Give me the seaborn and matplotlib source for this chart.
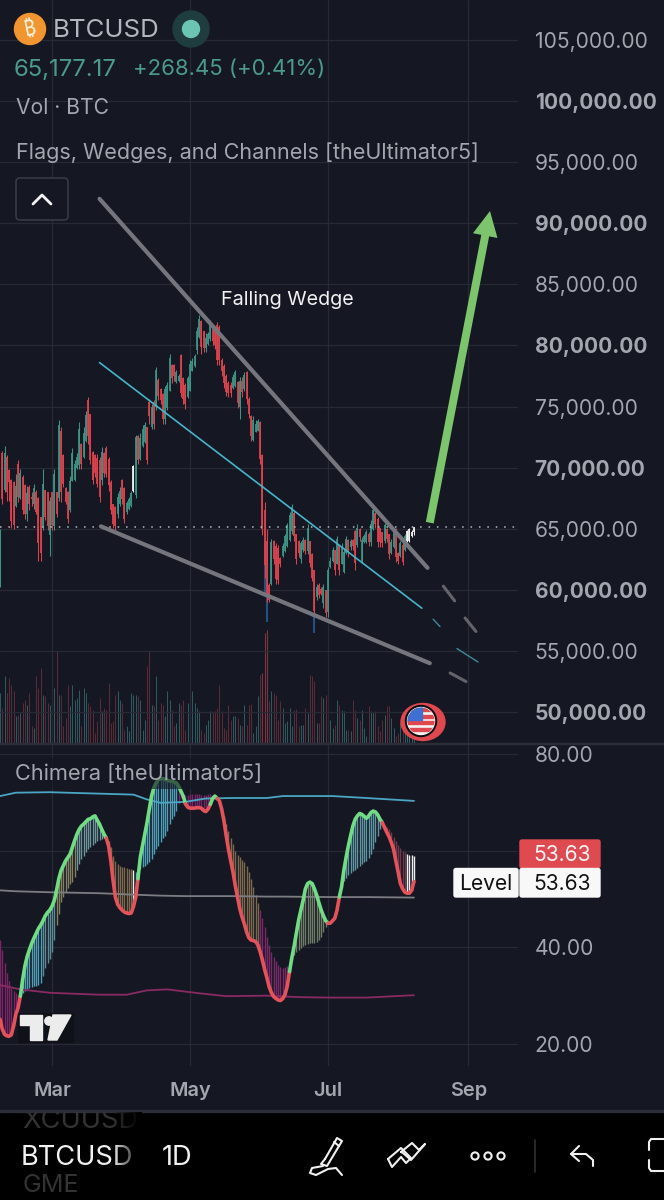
import numpy as np
import pandas as pd
import seaborn as sns
import matplotlib.pyplot as plt
from matplotlib.patches import Circle, Ellipse, FancyBboxPatch, Polygon, Rectangle

# daily candles, prices in thousands of USD
opens = [61.0,71.2,68.2,70.9,69.8,69.0,68.8,66.9,70.3,67.5,69.2,68.6,66.2,68.4,67.6,67.0,68.0,67.5,66.0,65.2,
         68.2,68.0,64.5,68.0,65.2,68.0,67.5,73.0,71.0,68.3,68.0,66.5,68.9,69.0,70.0,70.2,71.9,70.9,72.2,75.5,
         74.4,71.3,71.0,70.8,70.6,69.0,71.2,71.6,70.7,68.8,67.0,66.8,66.2,67.0,69.0,68.3,66.4,66.6,66.9,68.1,
         67.8,72.6,70.7,71.8,72.1,73.3,75.4,73.3,75.4,75.0,77.2,76.4,76.0,74.0,74.9,76.3,78.4,78.4,77.0,77.1,
         79.2,77.3,76.8,75.8,76.3,77.9,78.3,79.6,80.7,82.0,81.2,79.8,80.1,80.5,81.6,81.5,81.7,81.5,78.8,78.3,
         77.5,76.9,76.8,76.5,76.7,77.0,75.0,77.1,76.4,77.8,75.6,74.2,72.3,72.9,73.0,73.7,71.0,66.5,64.0,60.4,
         60.5,64.0,63.6,63.4,62.6,62.8,63.2,63.6,64.1,64.8,66.3,64.6,64.0,62.5,63.3,64.1,63.2,64.0,62.9,61.6,
         59.4,60.4,60.1,58.9,60.0,58.2,61.9,62.4,63.3,62.1,63.7,62.1,61.5,63.0,64.1,63.5,64.1,64.8,63.7,65.0,
         62.4,63.9,63.9,64.6,63.9,65.0,66.3,65.8,65.1,64.7,64.0,65.0,64.6,63.0,63.5,65.0,63.0,62.8,63.7,63.3,
         64.0,64.0,64.4,64.7]
highs = [65.0,71.4,71.8,71.0,69.9,69.1,68.9,69.5,70.6,69.9,69.4,68.7,68.5,68.6,68.0,68.7,68.2,67.6,66.0,69.9,
         68.2,68.0,67.6,68.0,69.9,68.0,73.9,73.3,71.1,68.4,68.1,69.3,71.6,70.6,71.2,73.7,72.0,73.3,74.6,75.8,
         74.4,71.4,71.1,71.1,70.9,71.7,71.3,71.8,70.9,69.0,67.0,66.9,67.9,68.4,69.1,68.4,67.3,67.6,68.1,70.2,
         72.7,72.7,72.8,73.5,73.7,73.3,75.6,75.2,75.5,78.2,77.3,76.5,76.1,76.7,77.0,79.3,78.5,78.5,78.0,77.7,
         79.3,77.4,76.9,77.5,78.8,79.0,79.3,81.5,82.5,82.1,81.2,81.0,81.1,82.1,81.7,81.6,81.9,81.7,79.0,78.5,
         77.7,77.1,77.0,77.7,78.0,77.1,77.4,77.4,77.8,77.9,75.8,74.3,74.2,73.9,74.0,73.8,71.1,67.2,65.0,60.6,
         64.2,64.1,63.8,63.7,62.7,63.8,64.6,65.5,66.4,67.0,66.5,64.6,64.1,64.0,64.3,64.2,65.4,64.0,63.0,61.6,
         60.5,60.6,60.2,60.5,60.0,61.9,62.7,63.5,63.3,64.4,63.7,63.8,63.4,64.4,64.2,64.2,64.2,64.9,65.4,65.1,
         64.3,64.6,64.9,64.7,65.7,66.8,66.4,66.0,65.1,64.7,65.5,65.1,64.6,64.2,65.1,65.1,63.1,64.0,63.8,64.6,
         64.9,65.1,64.9,65.1]
lows = [60.2,67.0,68.0,67.3,67.3,65.1,65.0,66.8,67.2,67.4,66.2,65.8,65.6,66.5,66.9,66.6,66.2,62.4,62.4,64.9,
        65.7,64.9,62.8,64.9,64.9,66.0,67.3,67.2,68.4,67.0,65.5,66.4,68.9,68.9,69.9,69.9,69.9,70.8,72.1,71.9,
        70.3,68.7,69.2,68.4,67.2,68.6,69.2,69.2,68.1,66.2,65.1,64.9,65.9,66.9,67.0,65.5,66.2,66.5,66.8,68.0,
        67.5,70.3,70.6,71.7,72.0,70.3,73.6,73.2,73.2,74.7,75.5,75.2,73.6,73.6,74.7,76.3,76.9,77.1,76.9,77.0,
        75.8,75.2,74.8,75.7,76.3,77.9,78.2,79.3,80.6,79.3,79.5,79.5,80.0,80.4,80.0,79.7,78.4,78.4,77.5,76.5,
        75.9,75.8,75.8,76.4,76.6,74.9,74.0,75.8,76.3,75.2,74.1,72.2,72.2,72.9,73.0,70.3,64.5,61.0,59.0,59.0,
        60.4,62.1,60.5,60.5,61.9,62.7,63.1,63.5,64.0,64.6,64.0,62.1,62.7,62.2,63.1,62.9,62.9,61.9,60.7,57.9,
        59.2,59.3,59.6,58.5,57.8,57.8,61.8,62.3,61.2,62.1,61.2,62.1,61.4,62.9,62.7,63.3,63.3,61.6,63.5,64.0,
        62.3,63.8,63.8,63.6,63.6,64.9,65.1,63.5,63.5,63.5,63.8,63.9,62.5,62.9,63.4,62.3,62.1,62.7,62.0,63.2,
        63.9,63.9,64.3,64.5]
closes = [64.6,67.4,71.2,68.0,68.8,65.6,65.3,68.5,67.6,69.6,66.5,66.2,67.9,67.0,67.4,68.3,66.4,63.8,63.0,68.7,
          66.0,65.2,67.3,65.3,69.5,66.2,73.5,68.0,68.7,67.2,65.8,68.9,71.2,70.3,70.9,73.2,70.3,72.8,74.3,72.6,
          70.6,69.0,69.6,68.7,67.6,71.3,69.6,69.5,68.6,66.5,65.4,65.2,67.6,68.1,67.4,65.8,67.1,67.4,67.9,70.1,
          72.5,70.6,72.4,73.2,73.5,70.6,74.2,75.0,73.6,78.0,75.9,75.5,74.0,76.4,76.8,79.0,77.3,77.5,77.8,77.5,
          76.1,75.6,75.2,77.3,78.5,78.7,79.1,81.2,82.2,79.9,79.8,80.6,80.9,81.8,80.4,80.0,78.8,78.8,77.9,76.9,
          76.2,76.1,76.1,77.4,77.8,75.3,77.1,76.2,77.6,75.6,74.4,72.6,73.9,73.6,73.8,70.7,65.0,62.0,59.6,59.2,
          63.9,62.5,60.9,60.8,62.1,63.6,64.4,65.3,66.1,66.8,64.4,62.5,63.0,63.8,64.1,63.2,65.1,62.2,61.0,58.3,
          60.2,59.6,59.7,60.2,58.1,61.6,62.4,63.3,61.6,64.2,61.6,63.5,63.1,64.2,63.1,64.0,63.6,62.2,65.1,64.3,
          64.1,64.4,64.7,63.9,65.4,66.5,65.4,63.9,63.9,63.8,65.3,64.2,62.9,63.9,64.9,62.7,62.4,63.8,62.3,64.4,
          64.8,65.0,64.7,65.17]
white_bars = [59, 180, 181, 182, 183]
last_price = 65.177

# volume, same units as the pane height
volume = [50,35,67,50,65,58,52,27,28,30,40,43,38,50,17,15,67,55,75,48,
          47,40,38,77,55,92,48,48,17,25,58,37,58,43,45,53,17,55,50,40,
          37,33,10,22,45,32,35,33,60,20,22,48,52,43,40,13,17,12,50,48,
          48,47,43,13,23,77,92,38,37,67,23,40,38,27,52,43,33,17,20,40,
          38,43,13,40,15,52,40,35,32,13,10,18,23,32,32,32,35,58,32,15,
          13,38,23,27,27,25,18,17,38,18,38,39,10,17,47,68,70,110,113,42,
          52,50,48,23,42,35,20,22,35,17,33,34,17,18,18,35,30,68,67,62,
          20,20,47,45,48,43,23,15,18,43,38,33,32,13,13,12,43,33,25,23,
          33,15,7,37,32,30,32,17,12,23,28,37,37,25,15,7,10,20,15,15,
          10,10,8,6]

# Chimera oscillator, fast wave and slow wave per bar
osc_fast = [25.1,23.1,22.0,21.7,21.6,21.9,23.7,26.1,27.5,29.9,33.3,36.1,38.1,39.5,40.8,41.9,42.9,43.9,44.6,45.5,
            46.5,47.2,47.7,48.5,49.7,51.8,54.2,55.9,56.9,57.9,58.6,59.3,60.7,62.1,63.4,64.4,65.1,65.5,66.0,66.5,
            66.6,67.0,67.2,66.3,65.5,64.4,63.4,62.6,61.0,57.9,53.8,50.4,48.9,48.2,47.7,47.3,47.1,47.0,47.1,48.4,
            50.4,54.2,58.6,61.0,63.4,65.8,68.6,71.3,73.0,74.0,74.7,74.9,74.9,74.8,74.6,74.4,74.4,74.2,74.0,73.3,
            72.3,71.3,69.7,69.0,68.8,68.8,68.8,68.9,68.9,68.8,68.3,68.1,68.6,69.6,70.8,71.3,70.8,70.3,68.6,66.2,
            63.1,60.3,57.9,55.6,52.8,50.4,48.0,46.3,44.9,43.2,42.0,41.5,41.4,41.2,40.5,39.1,37.4,35.4,33.7,31.8,
            30.6,29.8,29.4,29.1,29.0,29.4,30.2,32.0,35.0,37.8,40.2,42.9,45.6,47.7,49.7,52.1,53.2,53.5,53.2,52.1,
            50.8,49.2,47.7,46.5,45.5,45.0,45.0,45.5,46.0,47.7,50.4,52.5,55.9,58.6,61.0,63.1,65.1,66.5,67.2,67.7,
            67.5,67.1,66.7,67.2,67.9,68.2,68.0,67.4,66.5,65.8,64.8,63.8,62.9,61.7,60.3,57.9,55.6,53.2,52.1,51.4,
            51.2,51.2,51.8,53.6]
osc_slow = [41.5,39.5,36.7,34.7,33.0,31.6,30.9,30.6,30.2,30.0,30.5,30.9,31.3,31.6,31.8,32.0,32.1,32.3,32.6,34.0,
            35.7,36.7,37.6,39.1,41.5,44.6,47.0,49.4,50.4,51.5,52.3,53.2,53.5,54.5,55.9,57.3,58.3,59.0,59.7,60.3,
            60.8,61.2,61.6,61.9,62.2,62.4,62.7,62.6,61.9,60.7,59.0,57.9,57.3,56.9,56.7,56.6,56.4,56.3,56.2,56.1,
            55.6,54.2,56.2,56.6,56.9,57.3,57.6,58.3,59.3,60.3,61.0,61.7,62.6,63.1,64.1,65.5,66.5,67.2,68.2,69.6,
            70.9,71.6,71.6,71.6,71.7,71.7,71.8,71.7,71.7,71.6,71.6,71.6,71.7,71.7,71.6,71.3,70.8,69.9,68.9,67.2,
            65.5,64.1,62.7,61.4,60.0,59.2,58.6,58.1,57.6,56.9,55.6,54.2,52.5,50.8,49.1,47.7,46.0,44.3,42.2,40.5,
            39.1,37.9,37.1,36.4,35.9,35.8,35.9,36.1,36.7,37.8,38.5,39.0,39.5,39.8,40.2,40.5,40.7,40.8,41.0,41.0,
            41.2,41.5,42.2,43.2,44.3,45.0,45.1,45.5,46.0,47.7,50.4,52.5,53.8,54.4,54.9,55.3,55.8,56.0,56.4,56.9,
            57.3,57.6,57.9,58.5,59.3,60.3,61.7,63.1,64.4,65.3,65.3,64.9,64.4,63.8,62.9,62.1,61.2,60.5,60.0,59.7,
            59.3,59.2,59.2,59.0]

# slow bands, read every so many bars
band_bars = [0, 7, 22, 44, 59, 65, 71, 82, 91, 103, 118, 125, 147, 162, 183]
band_upper = [71.3,72.0,72.1,71.8,71.6,70.6,69.9,70.1,70.8,70.9,70.9,71.3,71.3,70.9,70.3]
band_mid = [51.8,51.6,51.4,51.2,50.9,50.8,50.7,50.6,50.6,50.6,50.5,50.5,50.4,50.4,50.3]
lower_bars = [0, 9, 22, 44, 56, 65, 74, 88, 100, 118, 132, 147, 162, 183]
band_lower = [32.2,31.3,30.6,30.2,30.2,31.1,31.3,30.5,29.9,30.0,29.7,29.6,29.6,30.1]

# hand drawn wedge, (bar, price)
wedge_upper_bars, wedge_upper_px = [44, 189], [92.0, 61.8]
wedge_upper_dash = [[196, 201], [60.3, 59.1], [205.6, 210.4], [57.7, 56.6]]
wedge_mid_bars, wedge_mid_px = [44, 186.5], [78.6, 58.5]
wedge_mid_dash = [[191.5, 194.5], [57.6, 57.0], [202, 211.3], [55.2, 54.1]]
wedge_lower_bars, wedge_lower_px = [44.6, 190], [65.2, 54.0]
wedge_lower_dash = [[199, 206], [53.2, 52.5]]
arrow_bars, arrow_px = [190, 216.6], [65.5, 91.0]

price_ticks = [105, 100, 95, 90, 85, 80, 75, 70, 65, 60, 55, 50]
price_labels = ['105,000.00', '100,000.00', '95,000.00', '90,000.00', '85,000.00', '80,000.00',
                '75,000.00', '70,000.00', '65,000.00', '60,000.00', '55,000.00', '50,000.00']
strong_labels = ['100,000.00', '90,000.00', '80,000.00', '70,000.00', '60,000.00', '50,000.00']
osc_ticks = [80, 60, 40, 20]
osc_labels = ['80.00', '', '40.00', '20.00']
month_ticks = ['2024-03-01', '2024-05-01', '2024-07-01', '2024-09-01']
month_labels = ['Mar', 'May', 'Jul', 'Sep']

BG = '#151823'
GRID = '#272a35'
UP = '#3d9384'
DOWN = '#d8434e'
GREEN = '#72dc85'
RED = '#e5535a'
LABEL = '#a3a6ae'

# colour of the oscillator histogram, first bar of each stretch
hist_starts = [0, 9, 19, 25, 34, 47, 59, 60, 79, 97, 115, 128, 150, 170, 180]
hist_colors = ['#7d2468', '#4f9fb8', '#5b8c95', '#85805f', '#6c959c', '#7d6a4c', '#eeeeee', '#4e9fb9',
               '#7a2468', '#7d6a4c', '#7a2a6a', '#6f7c68', '#5f96a3', '#6e3b4e', '#eeeeee']
# where the fast wave changes colour
wave_breaks = [0, 9, 47, 61, 82, 93, 96, 128, 145, 150, 169, 183]
wave_colors = [RED, GREEN, RED, GREEN, RED, GREEN, RED, GREEN, RED, GREEN, RED]

sns.set_theme(style='darkgrid', rc={
    'axes.facecolor': BG, 'figure.facecolor': BG, 'grid.color': GRID, 'grid.linewidth': 0.9,
    'axes.edgecolor': BG, 'axes.linewidth': 0,
})
plt.rcParams['font.family'] = ['Inter', 'DejaVu Sans']

start = pd.Timestamp('2024-02-07')
dates = start + pd.to_timedelta(np.arange(len(closes)), 'D')


def bar_date(bars):
    return start + pd.to_timedelta(np.array(bars, dtype=float), 'D')


opens_a, closes_a = np.array(opens), np.array(closes)
candle_colors = np.where(closes_a >= opens_a, UP, DOWN).astype(object)
for i in white_bars:
    candle_colors[i] = '#f0f0f0'

W, H = 664, 1200
fig = plt.figure(figsize=(W / 100, H / 100), dpi=100)
ax = fig.add_axes([0, 1 - 743 / H, 518 / W, 743 / H])
ax_osc = fig.add_axes([0, 1 - 1066 / H, 518 / W, (1066 - 743) / H], sharex=ax)

# price pane
ax_vol = ax.twinx()
ax_vol.grid(False)
ax_vol.set_ylim(0, 743)
ax_vol.set_yticks([])
vol_colors = np.where(closes_a >= opens_a, '#2f5c60', '#5c2c38')
ax_vol.vlines(dates, 0, volume, colors=vol_colors, linewidth=0.7)
ax_vol.vlines(dates[116:119], 0, np.array(volume)[116:119], colors='#7a3340', linewidth=0.8)
ax.set_zorder(ax_vol.get_zorder() + 1)
ax.patch.set_visible(False)
ax_vol.patch.set_visible(True)

ax.vlines(bar_date([117, 118, 139]), [59.7, 57.4, 56.5], [63.8, 59.7, 58.0], colors='#2a5f9c', linewidth=1.5, alpha=0.8)
ax.vlines(dates, lows, highs, colors=candle_colors, linewidth=0.75)
ax.vlines(dates, opens, closes, colors=candle_colors, linewidth=1.3)
ax.axhline(last_price, color='#b4bcbc', linewidth=1.1, linestyle=(0, (1, 4.5)))

for bars, px, col, lw in [(wedge_upper_bars, wedge_upper_px, '#75757d', 3.0),
                          (wedge_mid_bars, wedge_mid_px, '#46b4c9', 1.2),
                          (wedge_lower_bars, wedge_lower_px, '#75757d', 3.0)]:
    sns.lineplot(x=bar_date(bars), y=px, color=col, linewidth=lw, ax=ax, legend=False, zorder=4)
for dash, col, lw in [(wedge_upper_dash, '#63636b', 2.2), (wedge_mid_dash, '#3f8a9c', 1.0), (wedge_lower_dash, '#63636b', 2.2)]:
    for k in range(0, len(dash), 2):
        sns.lineplot(x=bar_date(dash[k]), y=dash[k + 1], color=col, linewidth=lw, ax=ax, legend=False, zorder=4)

ax.annotate('', xy=(bar_date(arrow_bars)[1], arrow_px[1]), xytext=(bar_date(arrow_bars)[0], arrow_px[0]),
            arrowprops=dict(arrowstyle='simple,head_length=1.0,head_width=1.0,tail_width=0.32', color='#7cc56d',
                            linewidth=0, mutation_scale=18, shrinkA=0, shrinkB=0), zorder=5)
ax.text(bar_date([127])[0], 83.7, 'Falling Wedge', color='#f2f2f2', fontsize=14.2, ha='center', va='center')

ax.set_ylim(47.47, 108.27)
ax.set_yticks(price_ticks)
ax.set_yticklabels(price_labels)
ax.yaxis.tick_right()
ax.tick_params(axis='y', length=0, pad=12, labelsize=15.1, labelcolor=LABEL)
for lab in ax.get_yticklabels():
    if lab.get_text() in strong_labels:
        lab.set_fontweight('bold')
ax.set_xlim(start, start + pd.Timedelta(days=229))
ax.set_xticks(pd.to_datetime(month_ticks))
ax.tick_params(axis='x', length=0, labelbottom=False)
ax.set_xlabel('')
ax.set_ylabel('')

# oscillator pane
fast, slow = np.array(osc_fast), np.array(osc_slow)
for k, s in enumerate(hist_starts):
    e = hist_starts[k + 1] if k + 1 < len(hist_starts) else len(fast)
    ax_osc.vlines(dates[s:e], fast[s:e], slow[s:e], colors=hist_colors[k], linewidth=1.0)

sns.lineplot(x=bar_date(band_bars), y=band_upper, color='#4aa6c4', linewidth=1.3, ax=ax_osc, legend=False)
sns.lineplot(x=bar_date(band_bars), y=band_mid, color='#7c7d82', linewidth=1.3, ax=ax_osc, legend=False)
sns.lineplot(x=bar_date(lower_bars), y=band_lower, color='#8a2a63', linewidth=1.3, ax=ax_osc, legend=False)
for k, col in enumerate(wave_colors):
    a, b = wave_breaks[k], wave_breaks[k + 1] + 1
    sns.lineplot(x=dates[a:b], y=fast[a:b], color=col, linewidth=2.6, ax=ax_osc, legend=False, zorder=4)
ax_osc.text(bar_date([6.5])[0], 75.9, 'Chimera [theUltimator5]', color='#a3a6ae', fontsize=15.7, va='center', zorder=6,
            bbox=dict(facecolor=BG, edgecolor='none', alpha=0.62, pad=4))

ax_osc.set_ylim(15.45, 82.28)
ax_osc.set_yticks(osc_ticks)
ax_osc.set_yticklabels(osc_labels)
ax_osc.yaxis.tick_right()
ax_osc.tick_params(axis='y', length=0, pad=12, labelsize=15.1, labelcolor=LABEL)
ax_osc.set_xticks(pd.to_datetime(month_ticks))
ax_osc.set_xticklabels(month_labels, fontweight='semibold')
ax_osc.tick_params(axis='x', length=0, pad=11.5, labelsize=14.4, labelcolor=LABEL)
ax_osc.set_xlabel('')
ax_osc.set_ylabel('')

# app chrome on top, pixel coordinates
ui = fig.add_axes([0, 0, 1, 1], zorder=10)
ui.patch.set_visible(False)
ui.axis('off')
ui.set_xlim(0, W)
ui.set_ylim(H, 0)

ui.add_patch(Rectangle((0, 743), W, 1, color='#2b2e38'))
ui.add_patch(Rectangle((0, 1111), W, 89, color='#000000', zorder=1))
ui.add_patch(Rectangle((0, 1110), W, 1.6, color='#2b2e38', zorder=2))

# header
ui.add_patch(Circle((30, 29), 15.5, color='#f0952f'))
ui.text(30, 29.5, '₿', color='#fff3e0', fontsize=15, fontweight='bold', ha='center', va='center', rotation=12,
        family=['Noto Sans', 'Roboto', 'Open Sans', 'Lato', 'Liberation Sans', 'DejaVu Sans', 'Noto Sans CJK SC'])
ui.text(53, 30.5, 'BTCUSD', color='#b4b6bd', fontsize=18.6, va='center')
ui.add_patch(Circle((191, 29), 18, color='#1f3c3f'))
ui.add_patch(Circle((191, 29), 8.5, color='#6cc5b2'))
ui.text(14, 69.5, '65,177.17', color='#4b9a8a', fontsize=17.2, va='center')
ui.text(133, 69.5, '+268.45 (+0.41%)', color='#4b9a8a', fontsize=15.9, va='center')
ui.text(16, 108, 'Vol · BTC', color='#a3a6ae', fontsize=15.2, va='center')
ui.text(16, 152.5, 'Flags, Wedges, and Channels [theUltimator5]', color='#a3a6ae', fontsize=15.5, va='center')
ui.add_patch(FancyBboxPatch((16, 178), 52, 42, boxstyle='round,pad=0,rounding_size=4', facecolor=BG, edgecolor='#3a3d47', linewidth=1.1))
ui.plot([33, 42, 51], [204, 195, 204], color='#f2f2f2', linewidth=2.0)

# flag badge
ui.add_patch(Ellipse((423, 722), 44, 37, color='#e0484f', zorder=3))
ui.add_patch(Circle((421, 721), 15.5, color='#0d0d12', zorder=3))
flag = Circle((421, 721), 13.5, color='#f4f4f4', zorder=3)
ui.add_patch(flag)
for yy in [708, 714.5, 721, 727.5]:
    r = Rectangle((405, yy), 32, 3.4, color='#e0484f', zorder=4)
    r.set_clip_path(flag)
    ui.add_patch(r)
canton = Rectangle((405, 705), 17, 15, color='#3f6fd0', zorder=5)
canton.set_clip_path(flag)
ui.add_patch(canton)

# price tags
ui.add_patch(FancyBboxPatch((520, 840), 80, 28, boxstyle='round,pad=0,rounding_size=2', color='#df4a51'))
ui.text(562, 855, '53.63', color='#f7f7f7', fontsize=15.1, ha='center', va='center')
ui.add_patch(FancyBboxPatch((454, 868.5), 64, 28.5, boxstyle='round,pad=0,rounding_size=2', color='#f8f8f8'))
ui.add_patch(FancyBboxPatch((520, 868.5), 80, 28.5, boxstyle='round,pad=0,rounding_size=2', color='#f8f8f8'))
ui.text(486, 884, 'Level', color='#111111', fontsize=15.1, ha='center', va='center')
ui.text(562, 884, '53.63', color='#111111', fontsize=15.1, ha='center', va='center')

# TradingView logo
ui.add_patch(Rectangle((18, 1013), 55, 29, color='#0d0e13', alpha=0.55))
ui.add_patch(Polygon([(20, 1015), (42, 1015), (42, 1040), (30, 1040), (30, 1025), (20, 1025)], color='#ececec'))
ui.add_patch(Circle((49, 1021), 4.2, color='#ececec'))
ui.add_patch(Polygon([(53, 1015), (71, 1015), (57, 1040), (48, 1040)], color='#ececec'))

# bottom bar
strip = Rectangle((0, 1111.6), W, 88.4, transform=ui.transData)
ui.text(21, 1158, 'BTCUSD', color='#f2f2f2', fontsize=19.6, va='center', zorder=3)
ui.text(162, 1158, '1D', color='#f2f2f2', fontsize=19.6, va='center', zorder=3)
t = ui.text(22, 1121, 'XCUUSD', color='#333333', fontsize=19.6, va='center', zorder=3, clip_on=True)
t.set_clip_path(strip)
ui.text(22, 1186, 'GME', color='#333333', fontsize=18, va='center', zorder=3)
fade = np.zeros((1, 30, 4))
fade[0, :, 3] = np.linspace(0, 1, 30)
ui.imshow(fade, extent=(112, 142, 1205, 1112), aspect='auto', zorder=4)
ui.set_xlim(0, W)
ui.set_ylim(H, 0)

ICON = dict(color='#f0f0f0', linewidth=1.5, zorder=5, solid_capstyle='round', solid_joinstyle='round')
ui.plot([325, 337, 342, 339, 327, 321, 325], [1159, 1138, 1141, 1146, 1166, 1164, 1159], **ICON)
ui.plot([334, 339], [1142, 1146], **ICON)
ui.plot([323, 312, 310, 316, 328, 336, 342], [1166, 1168, 1173, 1175, 1169, 1168, 1175], **ICON)
ui.plot([388, 401, 411, 406, 401, 392, 388], [1159, 1148, 1158, 1163, 1157, 1167, 1159], **ICON)
ui.plot([401, 412, 419, 425, 411, 403, 401], [1152, 1143, 1150, 1144, 1160, 1153, 1152], **ICON)
for cx in [475, 488, 501]:
    ui.add_patch(Circle((cx, 1156), 3.6, facecolor='none', edgecolor='#f0f0f0', linewidth=1.5, zorder=5))
ui.plot([535, 535], [1140, 1172], color='#2f2f2f', linewidth=1.2, zorder=5)
ui.plot([579, 571, 579], [1146, 1154, 1161], **ICON)
ui.plot([571, 586, 593, 593], [1154, 1154, 1160, 1166], **ICON)
ui.plot([664, 651, 649, 649], [1139, 1139, 1142, 1150], **ICON)
ui.plot([649, 649, 651, 664], [1160, 1168, 1171, 1171], **ICON)

fig.savefig('out.png', dpi=100, facecolor=BG)
